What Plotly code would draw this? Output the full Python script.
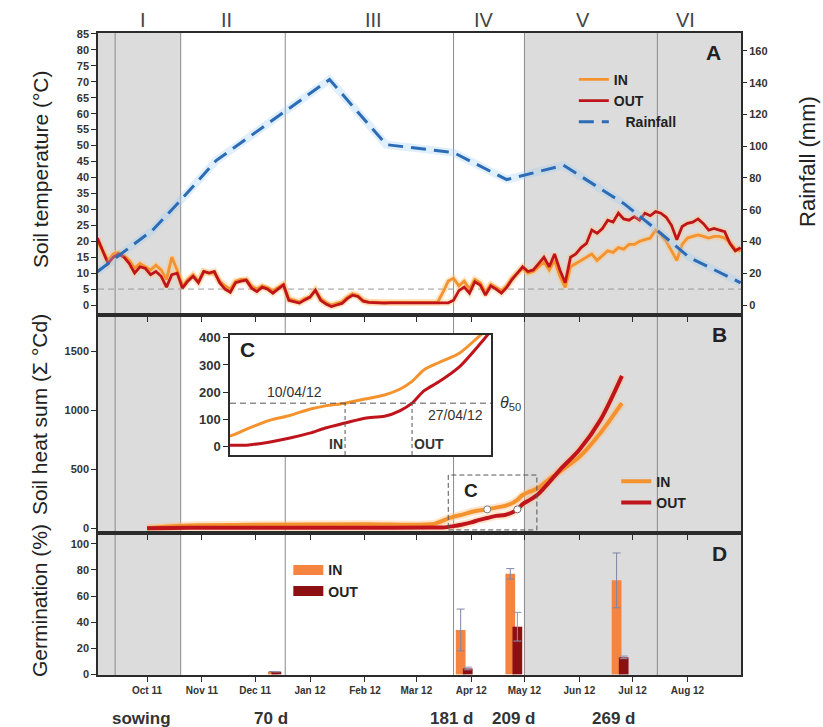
import pandas as pd
import plotly.graph_objects as go

# ---------------- time axis and experimental periods ----------------
X_START = "2011-09-03 08:00"
X_END = "2012-08-31 05:00"
month_ticks = ["2011-10-01", "2011-11-01", "2011-12-01", "2012-01-01", "2012-02-01",
               "2012-03-01", "2012-04-01", "2012-05-01", "2012-06-01", "2012-07-01",
               "2012-08-01"]
month_labels = ["Oct 11", "Nov 11", "Dec 11", "Jan 12", "Feb 12", "Mar 12",
                "Apr 12", "May 12", "Jun 12", "Jul 12", "Aug 12"]
period_bounds = ["2011-09-13", "2011-10-20", "2011-12-18", "2012-03-22",
                 "2012-05-01", "2012-07-15"]
period_labels = ["I", "II", "III", "IV", "V", "VI"]
period_label_dates = ["2011-09-29", "2011-11-15", "2012-02-06", "2012-04-08",
                      "2012-06-03", "2012-07-31"]
shaded_spans = [(X_START, "2011-10-20"), ("2012-05-01", X_END)]

event_labels = ["sowing", "70 d", "181 d", "209 d", "269 d"]
event_dates = ["2011-09-28", "2011-12-10", "2012-03-21", "2012-04-25", "2012-06-20"]

# ---------------- A: soil temperature (3-day readings from 3 Sep 2011) ----------------
temp_start = "2011-09-03"
temp_in = [20, 17, 14, 16, 16.5, 15.5, 14, 11.5, 13, 12,
           11, 12.5, 11, 8, 15, 11, 6, 8, 9.5, 7.5,
           10.5, 10, 10, 7.5, 6, 5, 7.5, 8, 8, 6,
           5, 6, 5.5, 4.5, 5.5, 6.5, 2, 1.5, 1, 2,
           2.5, 4.5, 2, 0.8, 0, 0.5, 1, 2.5, 3.5, 3,
           1.5, 1, 0.8, 0.8, 0.8, 0.8, 0.8, 0.8, 0.8, 0.8,
           0.8, 0.8, 0.8, 0.8, 0.9, 4, 7.5, 8.4, 6, 7.5,
           5, 8, 7, 4, 6.5, 5.5, 4.5, 6, 8.5, 10,
           11.5, 10, 10.5, 12, 13.5, 11, 14, 9, 5.5, 12,
           13, 14, 15, 16, 14, 15.5, 17, 16.5, 18, 17.5,
           19, 19, 20, 20.5, 21, 23.5, 22, 20, 17, 14,
           19, 21, 21.5, 22, 21.5, 21, 21.5, 21.5, 21, 19.5,
           17.5, 17]
temp_out = [21, 17, 13, 15, 16, 15, 13, 10, 12, 11.5,
            9.5, 10.5, 9, 5.6, 9.5, 10, 5.3, 7.5, 9, 7,
            10.5, 10, 10.5, 7, 5, 4, 7, 7.5, 7.8, 5.3,
            4.2, 5.6, 5, 3.7, 5, 6.3, 1.5, 1, 0.6, 1.6,
            2.5, 4.7, 1.5, 0.3, -0.5, 0, 0.5, 2, 3.1, 2.7,
            1.2, 0.8, 0.7, 0.7, 0.6, 0.7, 0.7, 0.6, 0.6, 0.7,
            0.7, 0.6, 0.6, 0.7, 0.7, 0.6, 0.7, 1.5, 4.5, 5.6,
            3.7, 7.3, 6.3, 3.1, 6, 5, 3.7, 5.5, 8, 10,
            12, 10.5, 11, 13, 15, 12, 16, 11, 7, 15,
            16, 18, 19.3, 23.5, 22.5, 24, 26.6, 26, 28.8, 27,
            26.6, 27.7, 26.6, 28.8, 28, 29.3, 28.8, 27.5, 25, 20.5,
            24.6, 25.6, 26, 27, 25.5, 23.5, 24, 23.5, 23, 19.3,
            17, 18]
temp_threshold = 5

rain_dates = ["2011-09-03", "2011-10-04", "2011-10-20", "2011-11-09", "2012-01-12",
              "2012-02-13", "2012-03-22", "2012-04-21", "2012-05-23", "2012-06-26",
              "2012-07-15", "2012-08-02", "2012-08-31"]
rain_mm = [21, 47, 66, 91, 142, 101, 96, 79, 88, 64, 47, 30, 14]

# ---------------- B / C: cumulative soil heat sum ----------------
hs_dates = ["2011-10-01", "2011-10-15", "2011-11-01", "2011-12-01", "2012-02-01",
            "2012-03-11", "2012-03-16", "2012-03-22", "2012-03-27", "2012-04-01",
            "2012-04-05", "2012-04-10", "2012-04-15", "2012-04-20", "2012-04-24",
            "2012-04-27", "2012-04-30", "2012-05-04", "2012-05-09", "2012-05-15",
            "2012-05-21", "2012-06-01", "2012-06-13", "2012-06-25"]
hs_in = [0, 18, 25, 30, 34, 37, 65, 98, 115, 138, 150, 160, 175, 190, 212,
         240, 282, 310, 343, 417, 480, 605, 810, 1060]
hs_out = [0, 3, 4, 5, 5, 6, 6, 18, 32, 50, 69, 87, 105, 112, 133,
          160, 205, 240, 293, 390, 495, 665, 920, 1290]
theta50 = 160
theta50_dates = ["2012-04-10", "2012-04-27"]   # IN, OUT
theta50_texts = ["10/04/12", "27/04/12"]
inset_range = ["2012-03-11 19:00", "2012-05-17 01:00"]
zoom_box_dates = ["2012-03-19", "2012-05-08"]
zoom_box_values = [-14, 451]

# ---------------- D: germination ----------------
germ_in_dates = ["2011-12-11", "2012-03-26", "2012-04-23", "2012-06-22"]
germ_out_dates = ["2011-12-13", "2012-03-30", "2012-04-27", "2012-06-26"]
germ_in = [2, 34, 77, 72]
germ_in_err = [0, 16, 4, 21]
germ_out = [2, 4.5, 36.5, 13]
germ_out_err = [0, 1, 11, 1]

# ---------------- styling ----------------
FONT = "Liberation Sans, Arial, sans-serif"
C_IN = "#f4922e"
C_OUT = "#c0141c"
C_RAIN = "#2c6bb5"
C_BAR_IN = "#f4843f"
C_BAR_OUT = "#8c0f12"
C_FRAME = "#2b2b2b"
C_SHADE = "#dcdcdc"
C_PERIOD = "#8a8a8a"
DAY_MS = 86400000

temp_dates = pd.date_range(temp_start, periods=len(temp_out), freq="3D")

fig = go.Figure()

# --- panel A ---
fig.add_trace(go.Scatter(x=rain_dates, y=rain_mm, xaxis="x", yaxis="y2", mode="lines",
                         line=dict(color="rgba(160,205,245,0.32)", width=8),
                         hoverinfo="skip", showlegend=False))
for vals in (temp_in, temp_out):
    fig.add_trace(go.Scatter(x=temp_dates, y=vals, xaxis="x", yaxis="y", mode="lines",
                             line=dict(color="rgba(255,196,120,0.4)", width=6.5),
                             hoverinfo="skip", showlegend=False))
fig.add_trace(go.Scatter(x=temp_dates, y=temp_in, xaxis="x", yaxis="y", mode="lines",
                         name="IN", legend="legend",
                         line=dict(color=C_IN, width=2.8)))
fig.add_trace(go.Scatter(x=temp_dates, y=temp_out, xaxis="x", yaxis="y", mode="lines",
                         name="OUT", legend="legend",
                         line=dict(color=C_OUT, width=2.8)))
fig.add_trace(go.Scatter(x=rain_dates, y=rain_mm, xaxis="x", yaxis="y2", mode="lines",
                         name="   Rainfall", legend="legend",
                         line=dict(color=C_RAIN, width=3, dash="15px,8px")))

# --- panel B ---
for vals in (hs_in, hs_out):
    fig.add_trace(go.Scatter(x=hs_dates, y=vals, xaxis="x2", yaxis="y3", mode="lines",
                             line=dict(color="rgba(255,190,130,0.4)", width=8, shape="spline",
                                       smoothing=0.8),
                             hoverinfo="skip", showlegend=False))
fig.add_trace(go.Scatter(x=hs_dates, y=hs_in, xaxis="x2", yaxis="y3", mode="lines",
                         name="IN", legend="legend2",
                         line=dict(color=C_IN, width=4, shape="spline", smoothing=0.8)))
fig.add_trace(go.Scatter(x=hs_dates, y=hs_out, xaxis="x2", yaxis="y3", mode="lines",
                         name="OUT", legend="legend2",
                         line=dict(color=C_OUT, width=4, shape="spline", smoothing=0.8)))
fig.add_trace(go.Scatter(x=theta50_dates, y=[theta50, theta50], xaxis="x2", yaxis="y3",
                         mode="markers", showlegend=False,
                         marker=dict(color="white", size=7,
                                     line=dict(color="#777777", width=1))))

# --- inset C ---
fig.add_trace(go.Scatter(x=hs_dates, y=hs_in, xaxis="x4", yaxis="y5", mode="lines",
                         showlegend=False, cliponaxis=True,
                         line=dict(color=C_IN, width=3, shape="spline", smoothing=0.8)))
fig.add_trace(go.Scatter(x=hs_dates, y=hs_out, xaxis="x4", yaxis="y5", mode="lines",
                         showlegend=False, cliponaxis=True,
                         line=dict(color=C_OUT, width=3, shape="spline", smoothing=0.8)))

# --- panel D ---
fig.add_trace(go.Bar(x=germ_in_dates, y=germ_in, xaxis="x3", yaxis="y4",
                     width=[5.5 * DAY_MS] * len(germ_in), marker_color=C_BAR_IN,
                     marker_line_width=0, showlegend=False,
                     error_y=dict(type="data", array=germ_in_err, color="#7f86a6",
                                  thickness=1, width=4)))
fig.add_trace(go.Bar(x=germ_out_dates, y=germ_out, xaxis="x3", yaxis="y4",
                     width=[5.5 * DAY_MS] * len(germ_out), marker_color=C_BAR_OUT,
                     marker_line_width=0, showlegend=False,
                     error_y=dict(type="data", array=germ_out_err, color="#8b93b3",
                                  thickness=1, width=4)))
for nm, col in (("IN", C_BAR_IN), ("OUT", C_BAR_OUT)):
    fig.add_trace(go.Scatter(x=[None], y=[None], xaxis="x3", yaxis="y4", mode="lines",
                             name=nm, legend="legend3",
                             line=dict(color=col, width=10)))

# ---------------- background shading and period lines ----------------
shapes = []
for x0, x1 in shaded_spans:
    shapes.append(dict(type="rect", xref="x", yref="paper", x0=x0, x1=x1, y0=0, y1=1,
                       fillcolor=C_SHADE, line=dict(width=0), layer="below"))
for d in period_bounds:
    shapes.append(dict(type="line", xref="x", yref="paper", x0=d, x1=d, y0=0, y1=1,
                       line=dict(color=C_PERIOD, width=1), layer="below"))
shapes.append(dict(type="line", xref="paper", yref="y", x0=0, x1=1,
                   y0=temp_threshold, y1=temp_threshold,
                   line=dict(color="#9a9a9a", width=1, dash="6px,4px"), layer="below"))
shapes.append(dict(type="rect", xref="x2", yref="y3",
                   x0=zoom_box_dates[0], x1=zoom_box_dates[1],
                   y0=zoom_box_values[0], y1=zoom_box_values[1],
                   line=dict(color="#555555", width=1, dash="5px,3px")))
shapes.append(dict(type="line", xref="x4 domain", yref="y5", x0=0, x1=1,
                   y0=theta50, y1=theta50,
                   line=dict(color="#555555", width=1, dash="6px,4px")))
for d in theta50_dates:
    shapes.append(dict(type="line", xref="x4", yref="y5", x0=d, x1=d, y0=-30, y1=theta50,
                       line=dict(color="#555555", width=1, dash="4px,3px")))

# ---------------- text ----------------
def label(text, xref, yref, x, y, size, weight="normal", color="#222222",
          xanchor="center", yanchor="middle", angle=0):
    return dict(text=text, xref=xref, yref=yref, x=x, y=y, showarrow=False,
                xanchor=xanchor, yanchor=yanchor, textangle=angle,
                font=dict(family=FONT, size=size, color=color, weight=weight))

ann = []
for lab, d in zip(period_labels, period_label_dates):
    ann.append(label(lab, "x", "paper", d, 1.02, 20, color="#444444"))
for lab, d in zip(event_labels, event_dates):
    ann.append(label(lab, "x", "paper", d, -0.067, 17, "bold", "#333333"))
for lab, x, y in (("A", 0.9565, 0.9704), ("B", 0.9673, 0.5296), ("D", 0.9673, 0.1885)):
    ann.append(label(lab, "paper", "paper", x, y, 21, "bold"))
titles = [("Soil temperature (°C)", -0.0902, 0.7866, 21),
          ("Soil heat sum (Σ °Cd)", -0.0902, 0.405, 21),
          ("Germination (%)", -0.0902, 0.1153, 21),
          ("Rainfall (mm)", 1.1026, 0.8006, 22)]
for t, x, y, sz in titles:
    ann.append(label(t, "paper", "paper", x, y, sz, angle=-90))
ann.append(label("C", "x2", "y3", "2012-04-01", 324, 19, "bold"))
ann.append(label("C", "x4 domain", "y5 domain", 0.067, 0.875, 21, "bold"))
ann.append(label(theta50_texts[0], "x4 domain", "y5 domain", 0.247, 0.525, 14,
                 color="#333333"))
ann.append(label(theta50_texts[1], "x4 domain", "y5 domain", 0.865, 0.333, 14,
                 color="#333333"))
ann.append(label("IN", "x4", "y5 domain", theta50_dates[0], 0.092, 14, "bold", "#333333",
                 xanchor="right"))
ann.append(label("OUT", "x4", "y5 domain", theta50_dates[1], 0.092, 14, "bold", "#333333",
                 xanchor="left"))
ann.append(label("<i>θ</i><sub>50</sub>", "x4 domain", "y5 domain", 1.075, 0.43, 16,
                 color="#333333"))

# ---------------- axes ----------------
tickfont = dict(family=FONT, size=11, color="#333333", weight="bold")
frame = dict(showline=True, linecolor=C_FRAME, linewidth=1.5, mirror=True,
             ticks="outside", ticklen=5, tickcolor=C_FRAME, tickwidth=1,
             showgrid=False, zeroline=False)
xbase = dict(type="date", range=[X_START, X_END], tickvals=month_ticks, **frame)
legend_font = dict(family=FONT, size=14, color="#222222", weight="bold")

fig.update_layout(
    width=823, height=727,
    margin=dict(l=98, r=82, t=33, b=52),
    paper_bgcolor="white", plot_bgcolor="white",
    barmode="overlay",
    font=dict(family=FONT, color="#222222"),
    shapes=shapes, annotations=ann,
    xaxis=dict(domain=[0, 1], anchor="y", showticklabels=False, **xbase),
    xaxis2=dict(domain=[0, 1], anchor="y3", matches="x", showticklabels=False, **xbase),
    xaxis3=dict(domain=[0, 1], anchor="y4", matches="x", ticktext=month_labels,
                tickfont=dict(family=FONT, size=10, color="#333333", weight="bold"),
                **xbase),
    yaxis=dict(domain=[0.5607, 1], anchor="x", range=[-3.14, 85.3], tick0=0, dtick=5,
               tickfont=tickfont, **frame),
    yaxis2=dict(overlaying="y", side="right", anchor="x", range=[-6.3, 171.3],
                tick0=0, dtick=20, tickfont=tickfont, showline=False, ticks="outside",
                ticklen=5, tickcolor=C_FRAME, showgrid=False, zeroline=False),
    yaxis3=dict(domain=[0.2212, 0.5607], anchor="x2", range=[-40, 1806],
                tickvals=[0, 500, 1000, 1500], tickfont=tickfont, **frame),
    yaxis4=dict(domain=[0, 0.2212], anchor="x3", range=[-0.5, 108.3], tick0=0, dtick=20,
                tickfont=tickfont, **frame),
    xaxis4=dict(domain=[0.2053, 0.6112], anchor="y5", type="date", range=inset_range,
                showticklabels=False, ticks="", showline=True, linecolor=C_FRAME,
                linewidth=1.5, mirror=True, showgrid=False, zeroline=False),
    yaxis5=dict(domain=[0.3427, 0.5296], anchor="x4", range=[-30, 410], tick0=0,
                dtick=100, tickfont=dict(family=FONT, size=13, color="#333333",
                                         weight="bold"), **frame),
    legend=dict(x=0.74, y=0.952, xanchor="left", yanchor="top", bgcolor="rgba(0,0,0,0)",
                font=legend_font, tracegroupgap=2),
    legend2=dict(x=0.806, y=0.326, xanchor="left", yanchor="top", bgcolor="rgba(0,0,0,0)",
                 font=legend_font),
    legend3=dict(x=0.296, y=0.188, xanchor="left", yanchor="top", bgcolor="rgba(0,0,0,0)",
                 font=legend_font),
)

fig.write_html("out.html")
